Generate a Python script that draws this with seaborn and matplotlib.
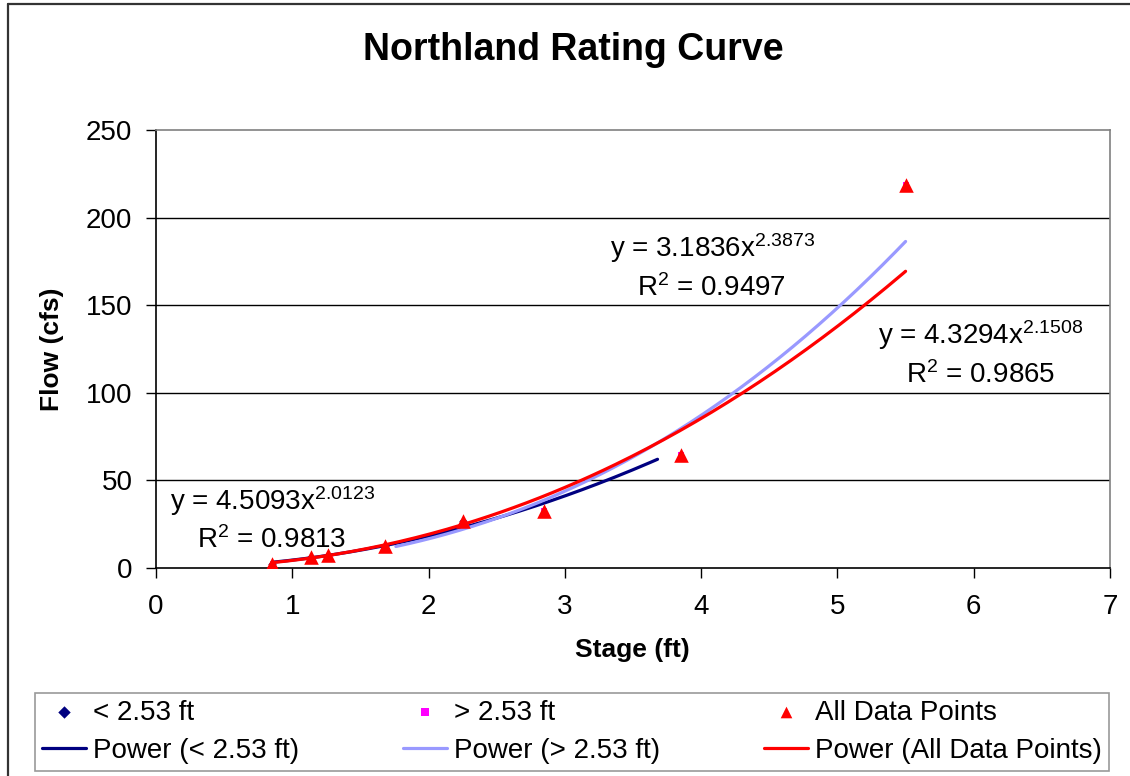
import numpy as np
import pandas as pd
import matplotlib
matplotlib.use("Agg")
import matplotlib.pyplot as plt
from matplotlib.lines import Line2D
import seaborn as sns

# Measured stage / flow pairs
stage = [0.85, 1.14, 1.26, 1.68, 2.25, 2.85, 3.85, 5.50]
flow = [2.3, 6.3, 7.4, 12.5, 27.0, 32.5, 64.5, 218.6]
split_stage = 2.53

# Power trendlines: coefficient, exponent, R^2, plotted stage range
fit_low = (4.5093, 2.0123, 0.9813, (0.85, 3.68))
fit_high = (3.1836, 2.3873, 0.9497, (1.76, 5.50))
fit_all = (4.3294, 2.1508, 0.9865, (0.85, 5.50))

x_ticks = [0, 1, 2, 3, 4, 5, 6, 7]
y_ticks = [0, 50, 100, 150, 200, 250]

sns.set_style("white")
plt.rcParams["font.family"] = ["Liberation Sans", "DejaVu Sans"]
plt.rcParams["mathtext.fontset"] = "custom"
plt.rcParams["mathtext.rm"] = "Liberation Sans"
plt.rcParams["mathtext.it"] = "Liberation Sans"
for key in ["text.color", "axes.labelcolor", "xtick.color", "ytick.color"]:
    plt.rcParams[key] = "black"

df = pd.DataFrame({"stage": stage, "flow": flow})
low = df[df.stage < split_stage]
high = df[df.stage > split_stage]

fig = plt.figure(figsize=(11.3, 7.76), dpi=100)
ax = fig.add_axes([156 / 1130, 1 - 568 / 776, 954 / 1130, 438 / 776])

navy = "#000080"
lblue = "#9999FF"
red = "#FF0000"
magenta = "#FF00FF"


def curve(fit, n=200):
    a, b, _, (x0, x1) = fit
    xs = np.linspace(x0, x1, n)
    return pd.DataFrame({"stage": xs, "flow": a * xs ** b})


sns.scatterplot(data=low, x="stage", y="flow", marker="D", color=navy, s=18,
                edgecolor=navy, linewidth=0, ax=ax, zorder=3, label="< 2.53 ft")
sns.scatterplot(data=high, x="stage", y="flow", marker="s", color=magenta, s=18,
                edgecolor=magenta, linewidth=0, ax=ax, zorder=3, label="> 2.53 ft")
sns.scatterplot(data=df, x="stage", y="flow", marker="^", color=red, s=110,
                edgecolor=red, linewidth=0, ax=ax, zorder=6, label="All Data Points")

sns.lineplot(data=curve(fit_low), x="stage", y="flow", color=navy, lw=2.3,
             ax=ax, zorder=4, label="Power (< 2.53 ft)")
sns.lineplot(data=curve(fit_high), x="stage", y="flow", color=lblue, lw=2.3,
             ax=ax, zorder=4, label="Power (> 2.53 ft)")
sns.lineplot(data=curve(fit_all), x="stage", y="flow", color=red, lw=2.3,
             ax=ax, zorder=5, label="Power (All Data Points)")

ax.set_xlim(0, 7)
ax.set_ylim(0, 250)
ax.set_xticks(x_ticks)
ax.set_yticks(y_ticks)
ax.tick_params(axis="both", labelsize=20, length=7, width=1, color="black",
               direction="out", bottom=True, left=True)
ax.tick_params(axis="x", pad=12)
ax.tick_params(axis="y", pad=10)

for yv in y_ticks[1:-1]:
    ax.axhline(yv, color="black", lw=1, zorder=1)
for side in ["left", "bottom"]:
    ax.spines[side].set_color("black")
    ax.spines[side].set_linewidth(1.2)
for side in ["top", "right"]:
    ax.spines[side].set_color("#808080")
    ax.spines[side].set_linewidth(1.2)

ax.set_xlabel("Stage (ft)", fontsize=19, fontweight="bold")
ax.set_ylabel("Flow (cfs)", fontsize=19, fontweight="bold")
ax.xaxis.set_label_coords(0.499, -0.187)
ax.yaxis.set_label_coords(-0.109, 0.5)
ax.xaxis.label.set_va("center")
ax.yaxis.label.set_va("center")

# Trendline equations
eq_style = dict(fontsize=20, color="black", ha="left", va="baseline", zorder=7)


def label_fit(fit, xy_eq, xy_r2):
    a, b, r2, _ = fit
    ax.text(*xy_eq, f"y = {a:.4f}x$^{{{b:.4f}}}$", **eq_style)
    ax.text(*xy_r2, f"R$^{{2}}$ = {r2:.4f}", **eq_style)


label_fit(fit_low, (0.10, 33.0), (0.30, 11.4))
label_fit(fit_high, (3.33, 177.5), (3.53, 155.3))
label_fit(fit_all, (5.30, 127.9), (5.50, 105.6))

fig.text(573 / 1130, 1 - 50 / 776, "Northland Rating Curve", fontsize=27,
         fontweight="bold", ha="center", va="center")

# Legend at the bottom, three columns
handles, labels = ax.get_legend_handles_labels()
ax.get_legend().remove()
order = [0, 3, 1, 4, 2, 5]
leg = fig.legend([handles[i] for i in order], [labels[i] for i in order],
                 loc="lower left", bbox_to_anchor=(35 / 1130, 5 / 776, 1074 / 1130, 79 / 776),
                 mode="expand", ncol=3, fontsize=20, frameon=True, fancybox=False,
                 edgecolor="#808080", handlelength=1.6, handletextpad=0.25,
                 borderaxespad=0, borderpad=0.25, labelspacing=0.45,
                 columnspacing=0.5)
leg.get_frame().set_linewidth(1.2)
marker_sizes = {0: 40, 2: 40, 4: 70}
for idx, size in marker_sizes.items():
    leg.legend_handles[idx].set_sizes([size])

# Outer chart border
fig.add_artist(Line2D([8 / 1130, 8 / 1130], [0, 1 - 4 / 776], transform=fig.transFigure,
                      color="#333333", lw=1.6))
fig.add_artist(Line2D([8 / 1130, 1], [1 - 4 / 776, 1 - 4 / 776], transform=fig.transFigure,
                      color="#333333", lw=1.6))

fig.savefig("out.png", dpi=100)
